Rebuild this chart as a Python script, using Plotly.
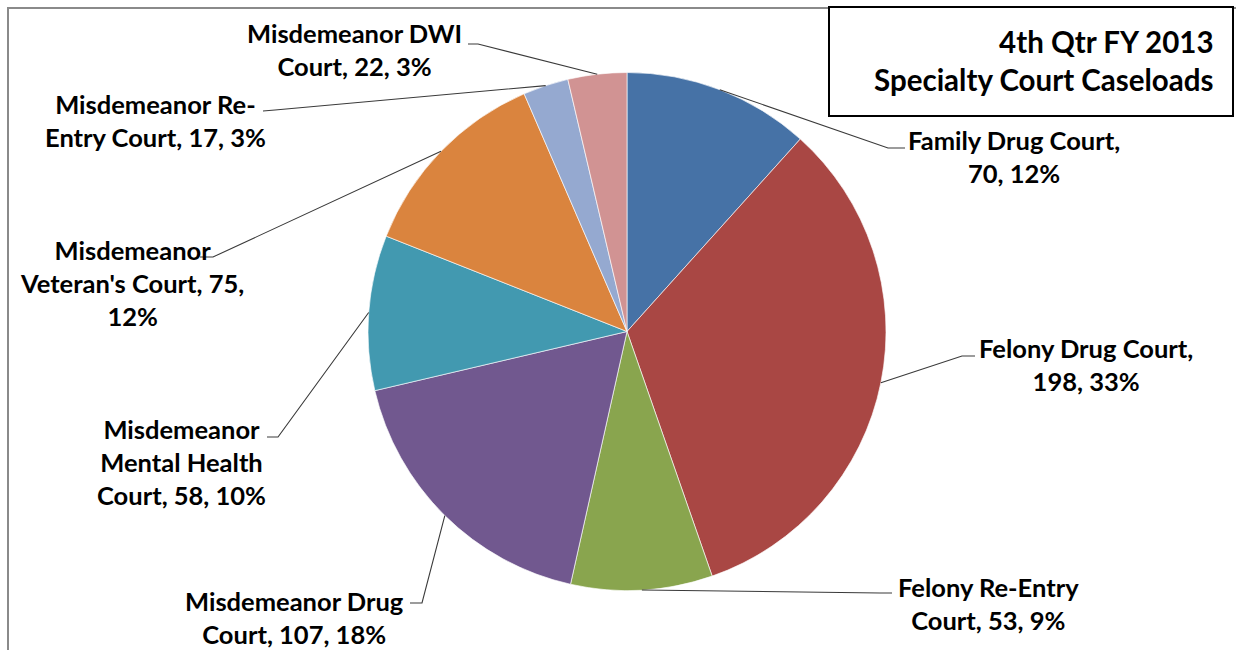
import math
import plotly.graph_objects as go

# ---- data ----
courts = ["Family Drug Court", "Felony Drug Court", "Felony Re-Entry Court",
          "Misdemeanor Drug Court", "Misdemeanor Mental Health Court",
          "Misdemeanor Veteran's Court", "Misdemeanor Re-Entry Court",
          "Misdemeanor DWI Court"]
caseloads = [70, 198, 53, 107, 58, 75, 17, 22]
pct_labels = ["12%", "33%", "9%", "18%", "10%", "12%", "3%", "3%"]
label_lines = [
    ["Family Drug Court,", "{v}, {p}"],
    ["Felony Drug Court,", "{v}, {p}"],
    ["Felony Re-Entry", "Court, {v}, {p}"],
    ["Misdemeanor Drug", "Court, {v}, {p}"],
    ["Misdemeanor", "Mental Health", "Court, {v}, {p}"],
    ["Misdemeanor", "Veteran's Court, {v},", "{p}"],
    ["Misdemeanor Re-", "Entry Court, {v}, {p}"],
    ["Misdemeanor DWI", "Court, {v}, {p}"],
]
colors = ["#4672A6", "#A94744", "#89A54E", "#71588F", "#4299B0",
          "#DA843E", "#95A9D0", "#D19393"]
title_lines = ["4th Qtr FY 2013", "Specialty Court Caseloads"]

# ---- layout constants (pixels) ----
W, H = 1236, 650
CX, CY, R = 627, 331.5, 259
FONT = "Lato"
FS = 25.5
TITLE_FS = 29.5

# label block centres and leader elbows (pixel positions)
label_pos = [(1014, 157), (1086, 364), (988, 603), (294, 617),
             (181, 462), (132, 283), (155, 121), (354, 49)]
elbow = [((905, 148), (888, 148)), ((975, 356), (962, 356)),
         ((892, 593), (880, 593)), ((410, 603), (422, 603)),
         ((267, 437), (278, 437)), ((200, 257), (213, 257)),
         ((263, 111), (275, 110)), ((468, 44), (478, 44))]


def px(x):
    return x / W


def py(y):
    return 1 - y / H


fig = go.Figure()
fig.add_trace(go.Pie(
    labels=courts, values=caseloads, sort=False, direction="clockwise",
    rotation=0, textinfo="none", hoverinfo="label+value+percent",
    marker=dict(colors=colors, line=dict(color="rgba(255,255,255,0.8)", width=0.8)),
    domain=dict(x=[px(CX - R), px(CX + R)], y=[py(CY + R), py(CY - R)]),
    showlegend=False,
))

shapes = []
annotations = []
total = sum(caseloads)
cum = 0
for i, v in enumerate(caseloads):
    mid = (cum + v / 2) / total * 2 * math.pi
    cum += v
    ex = CX + R * math.sin(mid)
    ey = CY - R * math.cos(mid)
    (x0, y0), (x1, y1) = elbow[i]
    shapes.append(dict(
        type="path", xref="paper", yref="paper",
        path=f"M {px(x0)},{py(y0)} L {px(x1)},{py(y1)} L {px(ex)},{py(ey)}",
        line=dict(color="#3a3a3a", width=1.1),
    ))
    text = "<br>".join(s.format(v=v, p=pct_labels[i]) for s in label_lines[i])
    lx, ly = label_pos[i]
    annotations.append(dict(
        x=px(lx), y=py(ly), xref="paper", yref="paper", text=f"<b>{text}</b>",
        showarrow=False, xanchor="center", yanchor="middle", align="center",
        font=dict(family=FONT, size=FS, color="#000000"),
    ))

# chart frame
shapes.append(dict(type="rect", xref="paper", yref="paper",
                   x0=px(8), y0=py(700), x1=px(1300), y1=py(8),
                   line=dict(color="#8a8a8a", width=2), layer="below"))
# title box
shapes.append(dict(type="rect", xref="paper", yref="paper",
                   x0=px(829), y0=py(116), x1=px(1233), y1=py(7),
                   line=dict(color="#000000", width=2), fillcolor="white"))
annotations.append(dict(
    x=px(1216), y=py(60), xref="paper", yref="paper",
    text="<b>" + "<br>".join(title_lines) + "</b>",
    showarrow=False, xanchor="right", yanchor="middle", align="right",
    font=dict(family=FONT, size=TITLE_FS, color="#000000"),
))

fig.update_layout(
    width=W, height=H, margin=dict(l=0, r=0, t=0, b=0),
    paper_bgcolor="white", plot_bgcolor="white",
    shapes=shapes, annotations=annotations,
)
fig.write_html("out.html",
               config={"displayModeBar": False},
               post_script="document.body.style.margin='0';"
                           "document.body.style.overflow='hidden';")
